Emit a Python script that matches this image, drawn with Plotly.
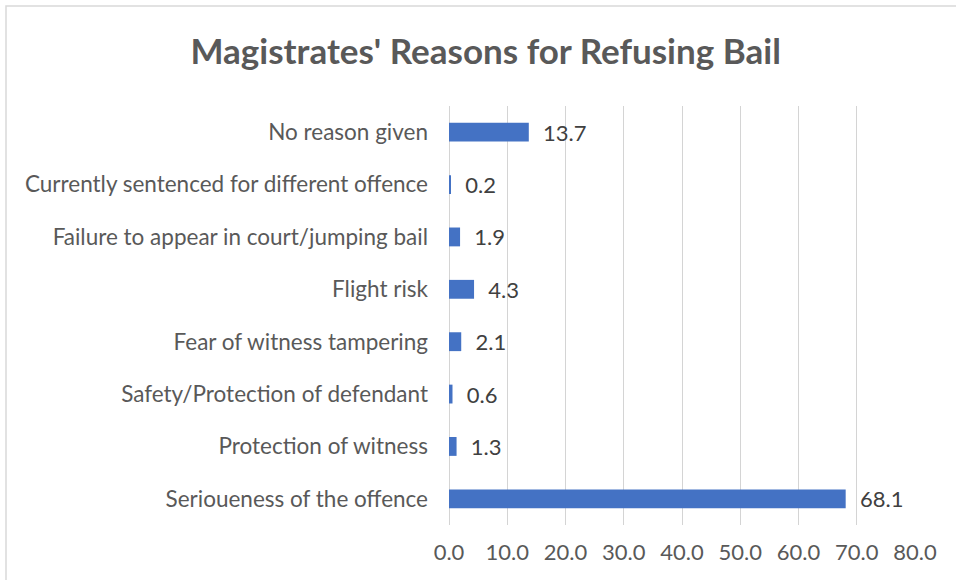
import plotly.graph_objects as go

# Data, bottom to top as drawn
reasons = [
    "Serioueness of the offence",
    "Protection of witness",
    "Safety/Protection of defendant",
    "Fear of witness tampering",
    "Flight risk",
    "Failure to appear in court/jumping bail",
    "Currently sentenced for different offence",
    "No reason given",
]
percent = [68.1, 1.3, 0.6, 2.1, 4.3, 1.9, 0.2, 13.7]

x_ticks = [0, 10, 20, 30, 40, 50, 60, 70, 80]

fig = go.Figure()

fig.add_trace(
    go.Bar(
        x=percent,
        y=reasons,
        orientation="h",
        marker=dict(color="#4472C4", line=dict(width=0)),
        text=["\u00a0\u00a0" + f"{v:.1f}" for v in percent],
        textposition="outside",
        constraintext="none",
        textfont=dict(family="Lato", size=22, color="#404040"),
        cliponaxis=False,
        hoverinfo="skip",
    )
)

fig.update_layout(
    width=956,
    height=580,
    margin=dict(l=449, r=41, t=106, b=55, autoexpand=False),
    paper_bgcolor="white",
    plot_bgcolor="white",
    showlegend=False,
    bargap=0.64,
    font=dict(family="Lato", size=22, color="#595959"),
    title=dict(
        text="<b>Magistrates' Reasons for Refusing Bail</b>",
        x=0.508,
        xanchor="center",
        y=0.91,
        yanchor="middle",
        font=dict(family="Lato", size=35, color="#595959"),
    ),
)

fig.update_xaxes(
    range=[0, 80],
    tickvals=x_ticks,
    ticktext=[f"{t:.1f}" for t in x_ticks],
    showgrid=True,
    gridcolor="#D4D4D4",
    gridwidth=1.3,
    zeroline=True,
    zerolinecolor="#D4D4D4",
    zerolinewidth=1.3,
    showline=False,
    ticks="",
    ticklabelstandoff=12,
    automargin=False,
    tickfont=dict(size=22, color="#595959"),
)

fig.update_yaxes(
    categoryorder="array",
    categoryarray=reasons,
    showgrid=False,
    zeroline=False,
    showline=False,
    ticks="",
    ticklabelstandoff=20,
    automargin=False,
    tickfont=dict(size=22.5, color="#595959"),
)

# light chart border (right and bottom edges fall outside the crop)
fig.add_shape(
    type="rect",
    xref="paper",
    yref="paper",
    x0=(6 - 449) / 466,
    x1=1.2,
    y0=-0.3,
    y1=1 + (106 - 6) / 419,
    line=dict(color="#D9D9D9", width=1.5),
    fillcolor="rgba(0,0,0,0)",
    layer="below",
)

fig.write_html(
    "out.html",
    config={"displayModeBar": False},
    post_script="document.body.style.margin='0';document.body.style.overflow='hidden';",
)
